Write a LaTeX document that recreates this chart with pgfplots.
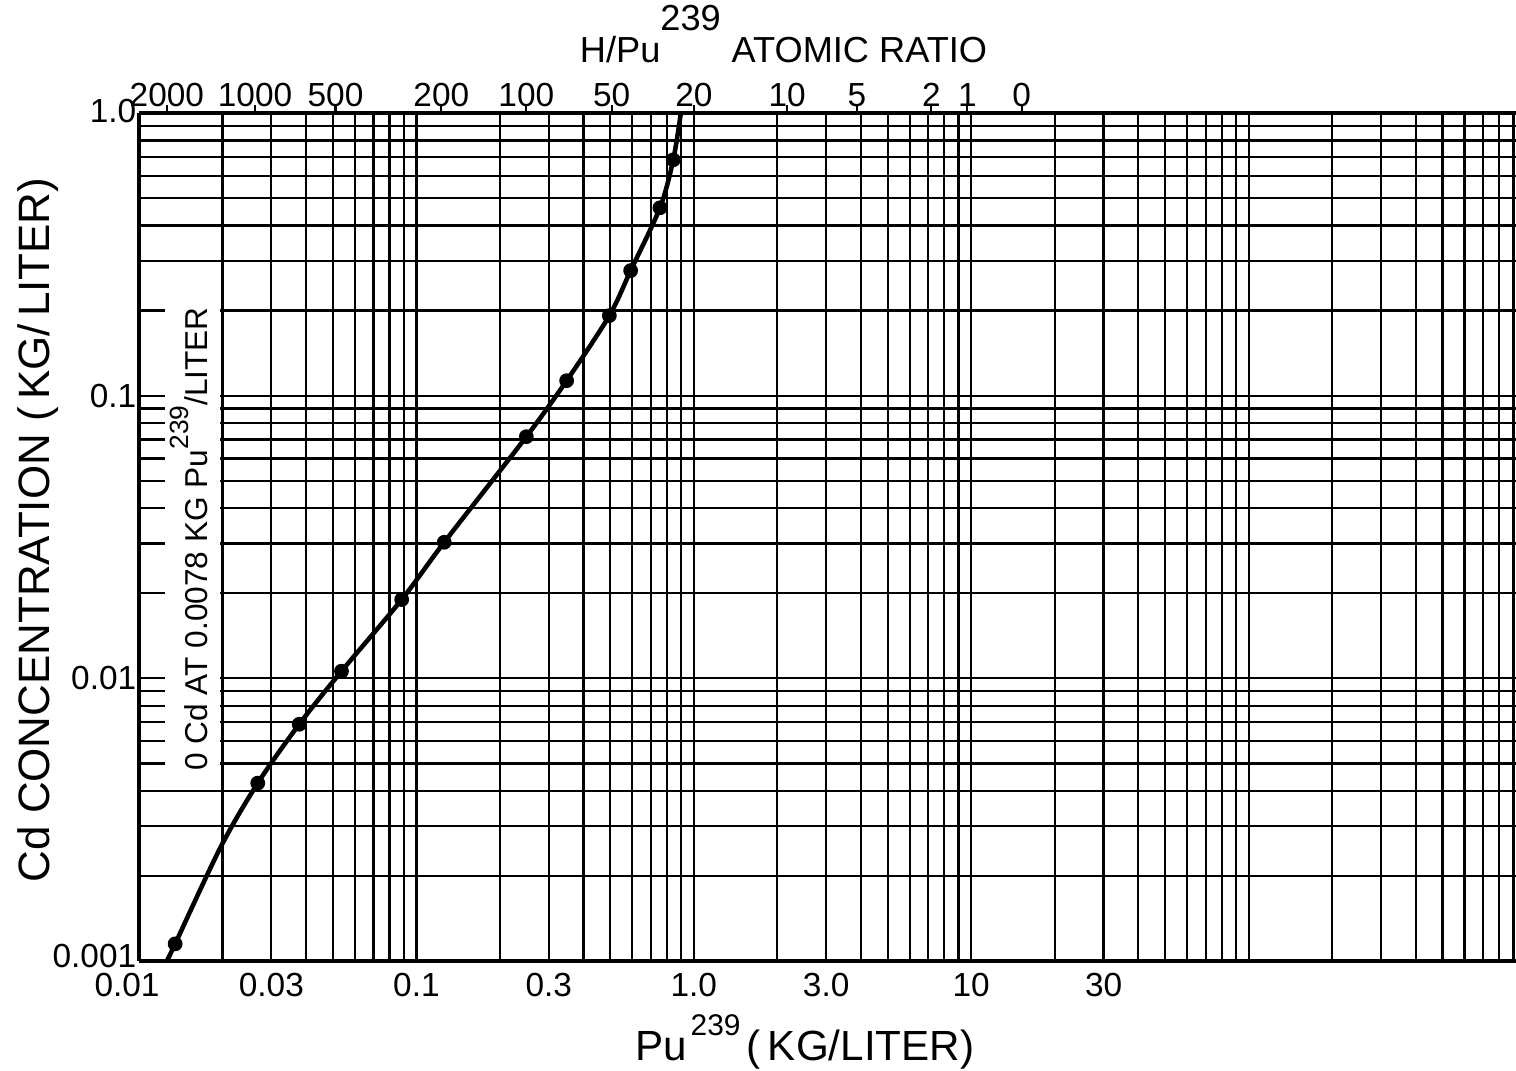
\documentclass[border=0pt]{standalone}
\usepackage{fontspec}
\setmainfont{Liberation Sans}
\usepackage{pgfplots}
\pgfplotsset{compat=1.18}

\newcommand{\tl}[1]{\mbox{#1}}

\begin{document}
\begin{tikzpicture}
% main grid, curve and bottom/left labels
\begin{axis}[
  scale only axis, width=137.7mm, height=84.8mm,
  at={(0,0)}, anchor=south west,
  xmode=log, ymode=log,
  xmin=0.01, xmax=920, ymin=0.001, ymax=1,
  axis line style={line width=0.9pt},
  axis x line*=box, axis y line*=left,
  xtick={0.01,0.03,0.1,0.3,1,3,10,30},
  xticklabels={\tl{\hspace{-2.4mm}0.01},\tl{0.03},\tl{0.1},\tl{0.3},\tl{1.0},\tl{3.0},\tl{10},\tl{30}},
  minor xtick={0.02,0.04,0.05,0.06,0.07,0.08,0.09,
               0.2,0.4,0.5,0.6,0.7,0.8,0.9,
               2,4,5,6,7,8,9,
               20,40,50,60,70,80,90,
               100,200,300,400,500,600,700,800,900},
  ytick={0.001,0.01,0.1,1},
  yticklabels={\tl{\raisebox{1.0mm}{0.001}},\tl{0.01},\tl{0.1},\tl{\raisebox{0.4mm}{1.0}}},
  minor ytick={0.002,0.003,0.004,0.005,0.006,0.007,0.008,0.009,
               0.02,0.03,0.04,0.05,0.06,0.07,0.08,0.09,
               0.2,0.3,0.4,0.5,0.6,0.7,0.8,0.9},
  grid=both,
  major grid style={black, line width=0.65pt},
  minor grid style={black, line width=0.65pt},
  major tick length=0pt, minor tick length=0pt,
  tick label style={font=\fontsize{9.5}{11}\selectfont},
  yticklabel style={inner sep=0.6pt},
]
\addplot[black, line width=1.3pt, smooth] coordinates {
  (0.0126,0.00100) (0.0135,0.00115) (0.0197,0.00253) (0.0268,0.00426)
  (0.0378,0.00688) (0.0537,0.0106) (0.0885,0.0190) (0.126,0.0303)
  (0.249,0.0716) (0.348,0.113) (0.496,0.192) (0.592,0.277)
  (0.755,0.462) (0.843,0.683) (0.898,1.0)
};
\addplot[black, only marks, mark=*, mark size=1.9pt] coordinates {
  (0.0135,0.00115) (0.0268,0.00426) (0.0378,0.00688) (0.0537,0.0106)
  (0.0885,0.0190) (0.126,0.0303) (0.249,0.0716) (0.348,0.113)
  (0.496,0.192) (0.592,0.277) (0.755,0.462) (0.843,0.683)
};
\end{axis}
% top scale: H/Pu atomic ratio
\begin{axis}[
  scale only axis, width=137.7mm, height=84.8mm,
  at={(0,0)}, anchor=south west,
  xmode=log, ymode=log,
  xmin=0.01, xmax=920, ymin=0.001, ymax=1,
  axis line style={line width=0.9pt},
  axis x line*=top, axis y line*=left,
  y axis line style={draw=none},
  xtick={0.0126,0.0262,0.0511,0.123,0.249,0.506,1.0,2.17,3.87,7.18,9.69,15.2},
  xticklabels={\tl{2000},\tl{1000},\tl{500},\tl{200},\tl{100},\tl{50},\tl{20},\tl{10},\tl{5},\tl{2},\tl{1},\tl{0}},
  ytick=\empty,
  xtick align=outside,
  major tick length=0.8mm, minor tick length=0pt,
  xtick style={black, line width=0.6pt},
  tick label style={font=\fontsize{9.5}{11}\selectfont},
  xticklabel style={inner sep=0.3mm, yshift=-0.55mm},
]
\end{axis}

% white panel behind the note inside the grid
\fill[white] (2.6mm,17.6mm) rectangle (8.1mm,66.5mm);
\node[anchor=base, rotate=90, font=\fontsize{9}{11}\selectfont, inner sep=0pt] at (6.8mm,42.2mm)
  {0 Cd AT 0.0078 KG Pu\raisebox{1.9mm}{\fontsize{7.5}{9}\selectfont 239}/LITER};

\node[anchor=base, font=\fontsize{10.3}{12}\selectfont] at (64.45mm,89.8mm)
  {H/Pu\raisebox{3.3mm}{239}\hspace{0.3em}ATOMIC RATIO};
\node[anchor=base west, font=\fontsize{12}{14}\selectfont, inner sep=0pt] at (49.6mm,-9.9mm)
  {Pu\hspace{0.08em}\raisebox{2.5mm}{\fontsize{8.5}{10}\selectfont 239}\hspace{0.15em}(\,KG/LITER)};
\node[anchor=base, rotate=90, font=\fontsize{12.5}{14}\selectfont, inner sep=0pt] at (-8.9mm,43.1mm)
  {Cd CONCENTRATION (\,KG/\,LITER)};

\pgfresetboundingbox
\path[use as bounding box] (-13.9mm,-10.9mm) rectangle (137.7mm,96.1mm);
\end{tikzpicture}
\end{document}
